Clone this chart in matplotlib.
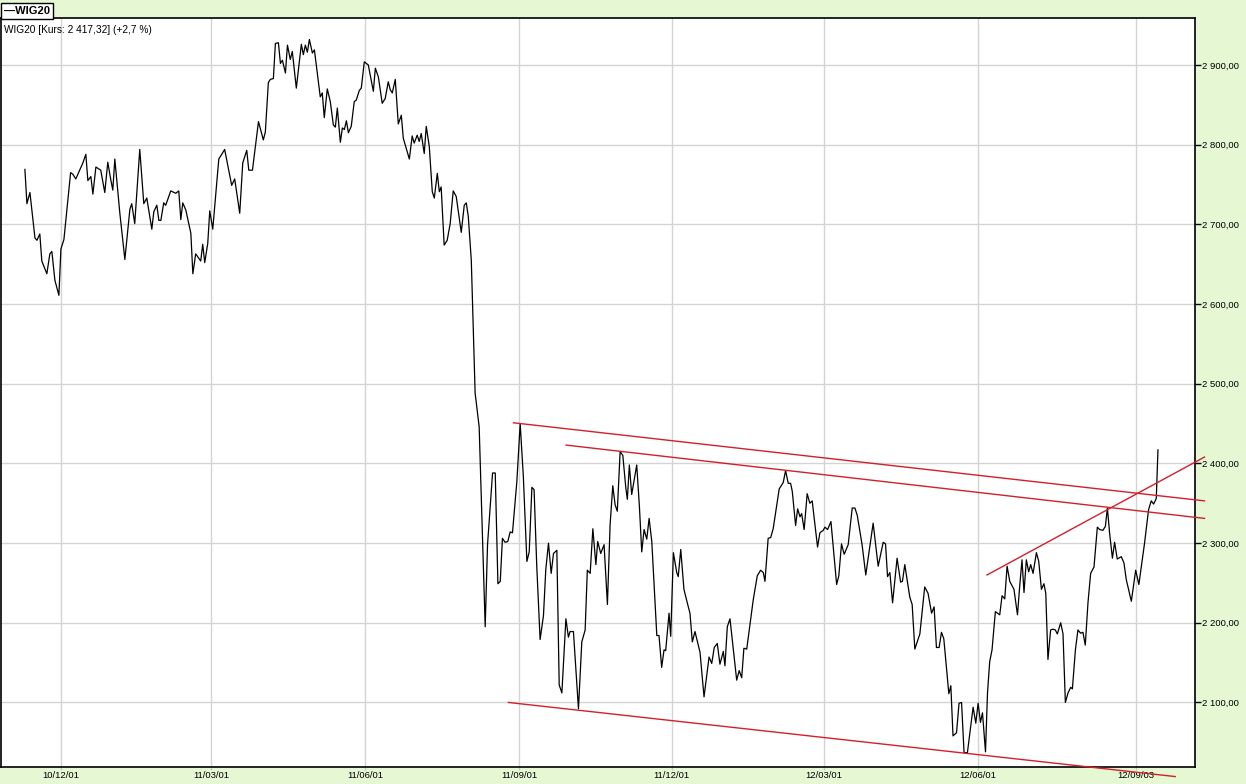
import matplotlib
matplotlib.use('Agg')
import matplotlib.pyplot as plt
import pandas as pd

# dni liczone od 2010-12-01, kurs WIG20
dni = [-21.3, -20.1, -18.3, -15.3, -14.1, -12.4, -11.2, -8.2, -6.4, -5.2, -3.4, -1.0,
       0.2, 2.0, 6.0, 7.3, 9.1, 13.3, 15.1, 16.3, 18.1, 19.3, 21.1, 24.0, 26.4, 28.2,
       30.0, 31.2, 32.4, 35.4, 38.4, 41.4, 42.5, 44.3, 47.3, 49.7, 51.5, 54.5, 55.7,
       57.5, 58.7, 59.9, 61.6, 62.8, 65.8, 68.8, 70.6, 71.8, 73.0, 74.8, 77.8, 79.0,
       80.7, 83.7, 84.9, 86.1, 87.9, 89.1, 90.9, 94.5, 98.0, 102.2, 104.0, 107.0,
       108.8, 111.2, 112.4, 114.6, 118.2, 121.1, 122.3, 124.1, 125.3, 127.1, 128.3,
       130.1, 131.3, 132.5, 134.3, 135.5, 137.2, 138.4, 140.8, 143.8, 145.0, 146.2,
       147.4, 148.6, 150.4, 151.6, 155.1, 156.3, 157.5, 159.3, 161.1, 162.9, 164.1,
       165.3, 167.1, 168.3, 169.5, 170.7, 171.9, 173.6, 175.4, 176.6, 178.4, 179.6,
       181.4, 183.8, 186.8, 188.0, 189.8, 192.1, 193.9, 195.7, 196.9, 198.1, 199.9,
       201.7, 203.5, 204.7, 208.3, 210.0, 211.2, 213.0, 214.2, 215.4, 217.2, 218.4,
       220.2, 222.0, 223.2, 225.0, 226.2, 227.3, 229.1, 230.9, 232.7, 234.5, 236.3,
       239.3, 241.1, 242.3, 243.5, 245.3, 247.6, 250.0, 253.6, 255.0, 258.0, 259.6,
       261.2, 262.6, 263.9, 265.5, 267.1, 268.5, 269.9, 272.5, 274.5, 276.4, 278.5,
       279.9, 281.5, 282.8, 284.4, 286.4, 288.4, 289.8, 291.4, 293.0, 294.4, 296.4,
       297.8, 299.4, 301.8, 303.3, 304.3, 306.3, 309.3, 311.3, 313.3, 314.6, 316.3,
       317.9, 319.7, 320.8, 322.6, 324.6, 326.6, 328.2, 329.8, 331.2, 332.5, 334.2,
       335.8, 337.6, 338.5, 339.7, 341.1, 344.1, 345.7, 347.1, 348.5, 350.1, 351.5,
       353.1, 356.1, 357.4, 359.0, 360.4, 361.4, 363.4, 364.4, 366.0, 368.0, 368.9,
       370.4, 372.3, 374.3, 375.9, 377.3, 378.9, 381.9, 384.3, 387.3, 388.9, 390.4,
       392.2, 393.8, 395.8, 396.8, 398.2, 399.8, 403.8, 405.3, 406.8, 408.1, 409.8,
       413.7, 416.1, 418.1, 419.7, 420.7, 422.6, 424.1, 425.6, 429.2, 431.6, 433.0,
       434.6, 436.0, 437.0, 439.0, 440.2, 441.6, 442.6, 444.1, 445.9, 447.5, 448.9,
       452.1, 453.5, 455.5, 456.5, 458.1, 460.1, 463.5, 464.8, 466.4, 468.0, 470.4,
       472.8, 474.4, 475.8, 478.7, 480.9, 485.3, 488.3, 491.3, 492.7, 493.9, 495.3,
       496.9, 499.6, 501.7, 502.8, 504.2, 507.2, 508.6, 510.2, 513.2, 516.1, 518.1,
       520.2, 521.7, 523.1, 524.7, 526.1, 527.5, 530.5, 531.7, 533.0, 535.1, 536.6,
       538.1, 539.6, 541.6, 545.0, 546.6, 548.0, 549.4, 550.6, 552.4, 553.6, 554.9,
       556.3, 558.3, 560.9, 562.3, 563.9, 565.3, 566.9, 569.4, 571.5, 572.8, 574.2,
       575.4, 576.8, 578.2, 579.4, 580.8, 582.8, 584.2, 585.8, 587.3, 588.4, 589.7,
       591.3, 592.7, 594.1, 595.3, 597.3, 598.7, 600.1, 601.7, 603.3, 604.3, 606.1,
       607.6, 609.2, 610.6, 612.0, 613.6, 615.2, 617.2, 619.2, 620.6, 622.5, 624.0,
       625.2, 626.5, 628.2, 629.5, 631.1, 633.5, 635.1, 636.5, 639.5, 642.1, 644.0,
       647.4, 649.8, 651.4, 652.8, 654.4, 655.4]
kurs = [2769, 2726, 2740, 2683, 2680, 2688, 2654, 2638, 2663, 2666, 2630, 2611,
        2669, 2681, 2765, 2763, 2757, 2777, 2788, 2755, 2760, 2738, 2772, 2768, 2740, 2778,
        2756, 2743, 2782, 2714, 2656, 2719, 2726, 2701, 2794, 2726, 2733, 2694, 2716,
        2724, 2705, 2705, 2727, 2724, 2742, 2739, 2742, 2706, 2727, 2718, 2689, 2638,
        2663, 2654, 2675, 2652, 2676, 2717, 2694, 2782, 2794, 2749, 2757, 2714,
        2777, 2793, 2768, 2768, 2829, 2806, 2816, 2878, 2882, 2883, 2927,
        2928, 2902, 2906, 2890, 2925, 2907, 2917, 2871, 2926, 2913, 2925,
        2916, 2932, 2915, 2919, 2860, 2865, 2834, 2870, 2854, 2825, 2822,
        2846, 2803, 2821, 2819, 2830, 2815, 2823, 2854, 2856, 2868, 2871,
        2904, 2900, 2867, 2896, 2885, 2852, 2858, 2879, 2869, 2865, 2882,
        2826, 2837, 2808, 2782, 2811, 2802, 2812, 2804, 2814, 2789, 2823,
        2798, 2741, 2733, 2764, 2741, 2747, 2674, 2680, 2701, 2742, 2735,
        2690, 2724, 2727, 2710, 2655, 2488, 2446, 2195, 2298, 2388, 2388,
        2249, 2252, 2306, 2301, 2302, 2314, 2313, 2377, 2450, 2383, 2277,
        2289, 2370, 2367, 2271, 2179, 2209, 2267, 2300, 2262, 2287, 2291,
        2122, 2112, 2205, 2182, 2189, 2189, 2092, 2176, 2191, 2266, 2262,
        2318, 2273, 2302, 2287, 2298, 2223, 2323, 2372, 2348, 2340, 2415,
        2410, 2369, 2355, 2398, 2361, 2398, 2346, 2289, 2317, 2305, 2331,
        2302, 2184, 2184, 2144, 2166, 2165, 2212, 2183, 2288, 2263, 2258,
        2292, 2242, 2225, 2212, 2176, 2189, 2163, 2107, 2157, 2149, 2169,
        2174, 2148, 2164, 2146, 2195, 2205, 2128, 2140, 2131, 2168, 2167,
        2229, 2259, 2266, 2263, 2252, 2306, 2307, 2318, 2368, 2376, 2391,
        2375, 2375, 2365, 2322, 2343, 2333, 2337, 2317, 2362, 2350, 2353,
        2295, 2313, 2316, 2320, 2317, 2327, 2248, 2259, 2299, 2286, 2298,
        2344, 2344, 2335, 2298, 2260, 2325, 2271, 2301, 2299, 2258, 2263,
        2225, 2281, 2251, 2252, 2273, 2232, 2223, 2167, 2186, 2245, 2237,
        2212, 2220, 2169, 2169, 2188, 2180, 2111, 2121, 2058, 2062, 2099,
        2100, 2037, 2037, 2094, 2074, 2099, 2075, 2087, 2038, 2112, 2151,
        2166, 2214, 2210, 2234, 2230, 2271, 2252, 2242, 2210, 2245, 2279,
        2238, 2279, 2264, 2273, 2262, 2288, 2277, 2242, 2249, 2237, 2154,
        2191, 2192, 2191, 2186, 2200, 2186, 2100, 2112, 2119, 2117, 2166,
        2191, 2187, 2188, 2172, 2225, 2262, 2270, 2320, 2317, 2316, 2321,
        2344, 2313, 2281, 2301, 2280, 2283, 2275, 2254, 2227, 2266, 2248,
        2300, 2342, 2353, 2349, 2356, 2417]

# linie trendu (dni, kurs)
trend1_x = [270.5, 683.2]
trend1_y = [2451, 2353]
trend2_x = [301.9, 683.2]
trend2_y = [2423, 2331]
trend3_x = [267.5, 665.7]
trend3_y = [2100, 2007]
trend4_x = [553.3, 683.2]
trend4_y = [2260, 2408]

start = pd.Timestamp('2010-12-01')
daty = ['2010-12-01', '2011-03-01', '2011-06-01', '2011-09-01', '2011-12-01',
        '2012-03-01', '2012-06-01', '2012-09-03']
etykiety = ['10/12/01', '11/03/01', '11/06/01', '11/09/01', '11/12/01',
            '12/03/01', '12/06/01', '12/09/03']
poziomy = [2100, 2200, 2300, 2400, 2500, 2600, 2700, 2800, 2900]

plt.rcParams['font.family'] = ['Liberation Sans', 'DejaVu Sans']

tlo = '#e5f8d3'
fig = plt.figure(figsize=(12.46, 7.84), dpi=100, facecolor=tlo)
ax = fig.add_axes([0.0005, 17 / 784, 1194 / 1246, 749 / 784])
ax.set_facecolor('white')

ax.plot(dni, kurs, color='black', lw=0.9)
for tx, ty in [(trend1_x, trend1_y), (trend2_x, trend2_y),
               (trend3_x, trend3_y), (trend4_x, trend4_y)]:
    ax.plot(tx, ty, color='#d21f29', lw=1, clip_on=False, zorder=3)

ax.set_xlim(-35.8, 677.3)
ax.set_ylim(2019, 2959)

pozycje = [(pd.Timestamp(d) - start).days for d in daty]
ax.set_xticks(pozycje)
ax.set_xticklabels(etykiety)
ax.set_yticks(poziomy)
ax.set_yticklabels([f'{p:,.2f}'.replace(',', ' ').replace('.', ',') for p in poziomy])
ax.yaxis.tick_right()
ax.grid(True, color='#d4d4d4', lw=1)
ax.set_axisbelow(True)

ax.tick_params(axis='y', direction='out', length=4, width=1, pad=1,
               labelsize=6.8, colors='black')
ax.tick_params(axis='x', direction='out', length=2, width=1, pad=1,
               labelsize=6.8, color='#c8c8c8')
for s in ax.spines.values():
    s.set_color('black')
    s.set_linewidth(1.2)

ax.text(0.003, 0.99, 'WIG20 [Kurs: 2 417,32] (+2,7 %)', transform=ax.transAxes,
        va='top', ha='left', fontsize=7.3)
fig.text(0.003, 0.9925, '\u2014WIG20', fontsize=8, fontweight='bold',
         va='top', ha='left',
         bbox=dict(boxstyle='square,pad=0.25', fc='white', ec='black', lw=1))

plt.savefig('out.png', dpi=100, facecolor=tlo)
